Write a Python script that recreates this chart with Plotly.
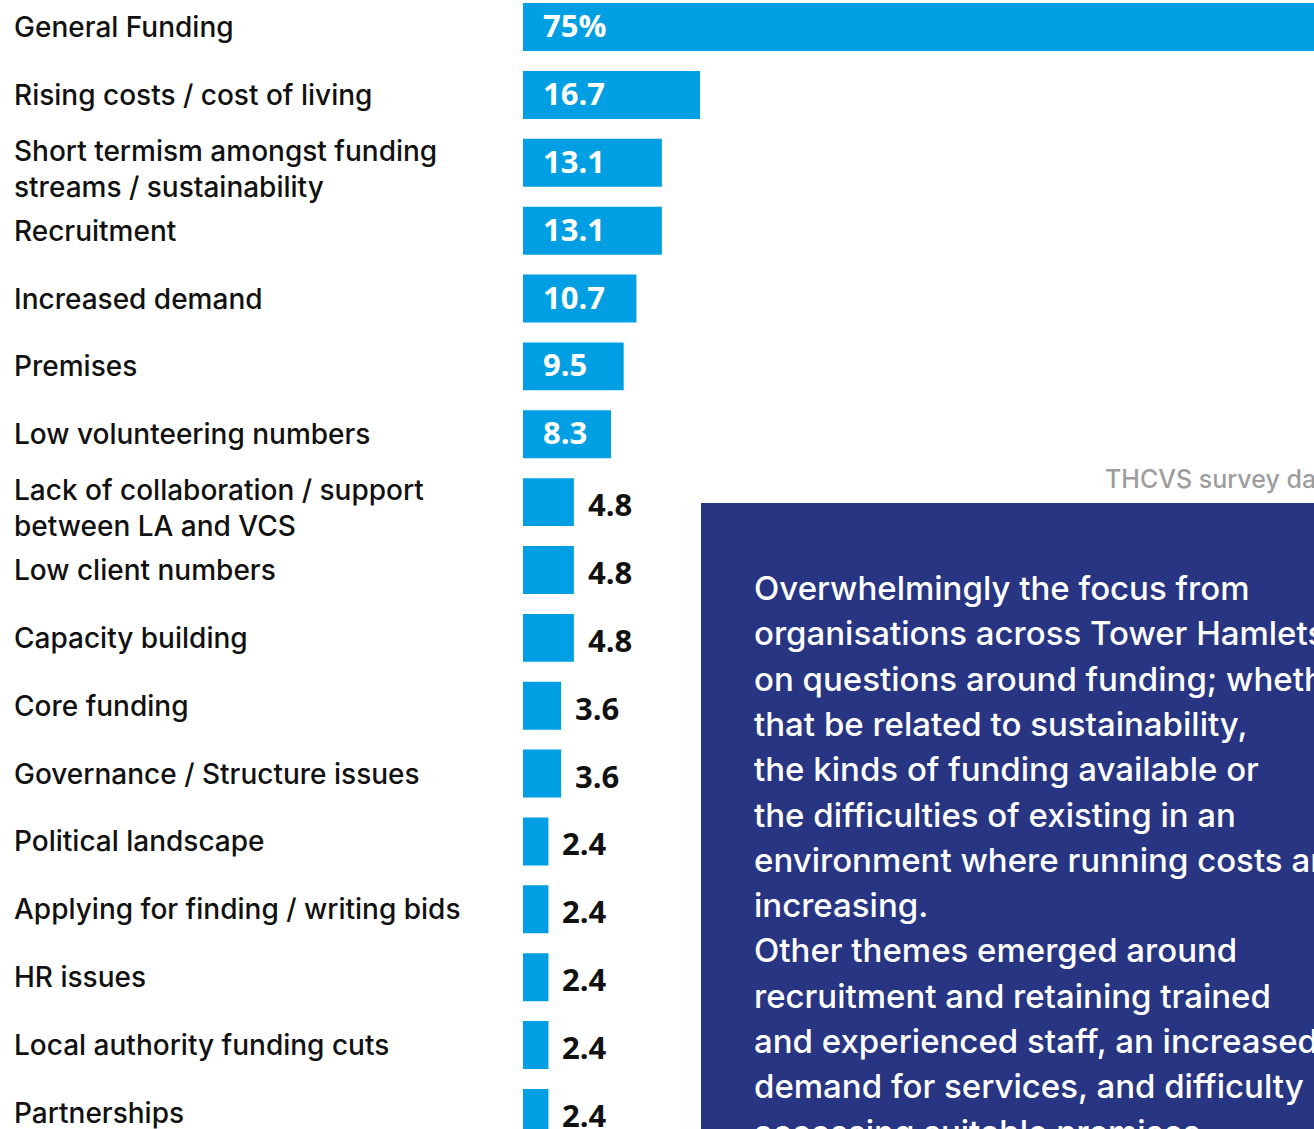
import plotly.graph_objects as go

# Data
categories = [
    "General Funding",
    "Rising costs / cost of living",
    "Short termism amongst funding<br>streams / sustainability",
    "Recruitment",
    "Increased demand",
    "Premises",
    "Low volunteering numbers",
    "Lack of collaboration / support<br>between LA and VCS",
    "Low client numbers",
    "Capacity building",
    "Core funding",
    "Governance / Structure issues",
    "Political landscape",
    "Applying for finding / writing bids",
    "HR issues",
    "Local authority funding cuts",
    "Partnerships",
]
values = [75, 16.7, 13.1, 13.1, 10.7, 9.5, 8.3, 4.8, 4.8, 4.8, 3.6, 3.6, 2.4, 2.4, 2.4, 2.4, 2.4]
value_text = ["75%", "16.7", "13.1", "13.1", "10.7", "9.5", "8.3", "4.8", "4.8", "4.8",
              "3.6", "3.6", "2.4", "2.4", "2.4", "2.4", "2.4"]

source_note = "THCVS survey data"
summary_lines = [
    "Overwhelmingly the focus from",
    "organisations across Tower Hamlets",
    "on questions around funding; whether",
    "that be related to sustainability,",
    "the kinds of funding available or",
    "the difficulties of existing in an",
    "environment where running costs are",
    "increasing.",
    "Other themes emerged around",
    "recruitment and retaining trained",
    "and experienced staff, an increased",
    "demand for services, and difficulty",
    "accessing suitable premises.",
]

W, H = 1314, 1129
BLUE = "#009fe3"
NAVY = "#283583"
LABEL_FONT = "Inter, Liberation Sans, Arial, sans-serif"
VALUE_FONT = "Open Sans, Lato, sans-serif"

idx = list(range(len(categories)))

fig = go.Figure(go.Bar(
    x=values,
    y=idx,
    orientation="h",
    width=0.707,
    marker=dict(color=BLUE, line=dict(width=0)),
    hoverinfo="skip",
))

ann = []
for i, (cat, v, t) in enumerate(zip(categories, values, value_text)):
    two_line = "<br>" in cat
    ann.append(dict(x=12 / W, xref="paper", y=i, yref="y", text=cat,
                    xanchor="left", yanchor="middle", align="left",
                    yshift=-6 if two_line else 0, showarrow=False,
                    font=dict(family=LABEL_FONT, size=28, color="#111111", weight=500)))
    if v >= 8:
        ann.append(dict(x=0, y=i, text=t, xanchor="left", yanchor="middle", xshift=18,
                        yshift=2, showarrow=False,
                        font=dict(family=VALUE_FONT, size=31, color="white", weight=700)))
    else:
        ann.append(dict(x=v, y=i, text=t, xanchor="left", yanchor="middle", xshift=12,
                        yshift=-2, showarrow=False,
                        font=dict(family=VALUE_FONT, size=31, color="#111111", weight=700)))

ann.append(dict(x=1103 / W, xref="paper", y=1 - 479 / H, yref="paper", text=source_note,
                xanchor="left", yanchor="middle", showarrow=False,
                font=dict(family=LABEL_FONT, size=25, color="#9d9d9d", weight=500)))

for k, ln in enumerate(summary_lines):
    ann.append(dict(x=752 / W, xref="paper", y=1 - (588 + 45.3 * k) / H, yref="paper",
                    text=ln, xanchor="left", yanchor="middle", showarrow=False,
                    font=dict(family=LABEL_FONT, size=33, color="white", weight=500)))

fig.add_shape(type="rect", xref="paper", yref="paper",
              x0=701 / W, x1=1.01, y0=-0.01, y1=1 - 503 / H,
              fillcolor=NAVY, line=dict(width=0), layer="below")

fig.update_layout(
    width=W,
    height=H,
    margin=dict(l=0, r=0, t=0, b=0),
    paper_bgcolor="white",
    plot_bgcolor="white",
    showlegend=False,
    xaxis=dict(range=[-523 / 10.6, (W - 523) / 10.6], visible=False, fixedrange=True),
    yaxis=dict(range=[16.236, -0.398], visible=False, fixedrange=True),
    annotations=ann,
)

fig.write_html("out.html", config={"displayModeBar": False},
               post_script="document.body.style.margin='0';document.body.style.overflow='hidden';")
